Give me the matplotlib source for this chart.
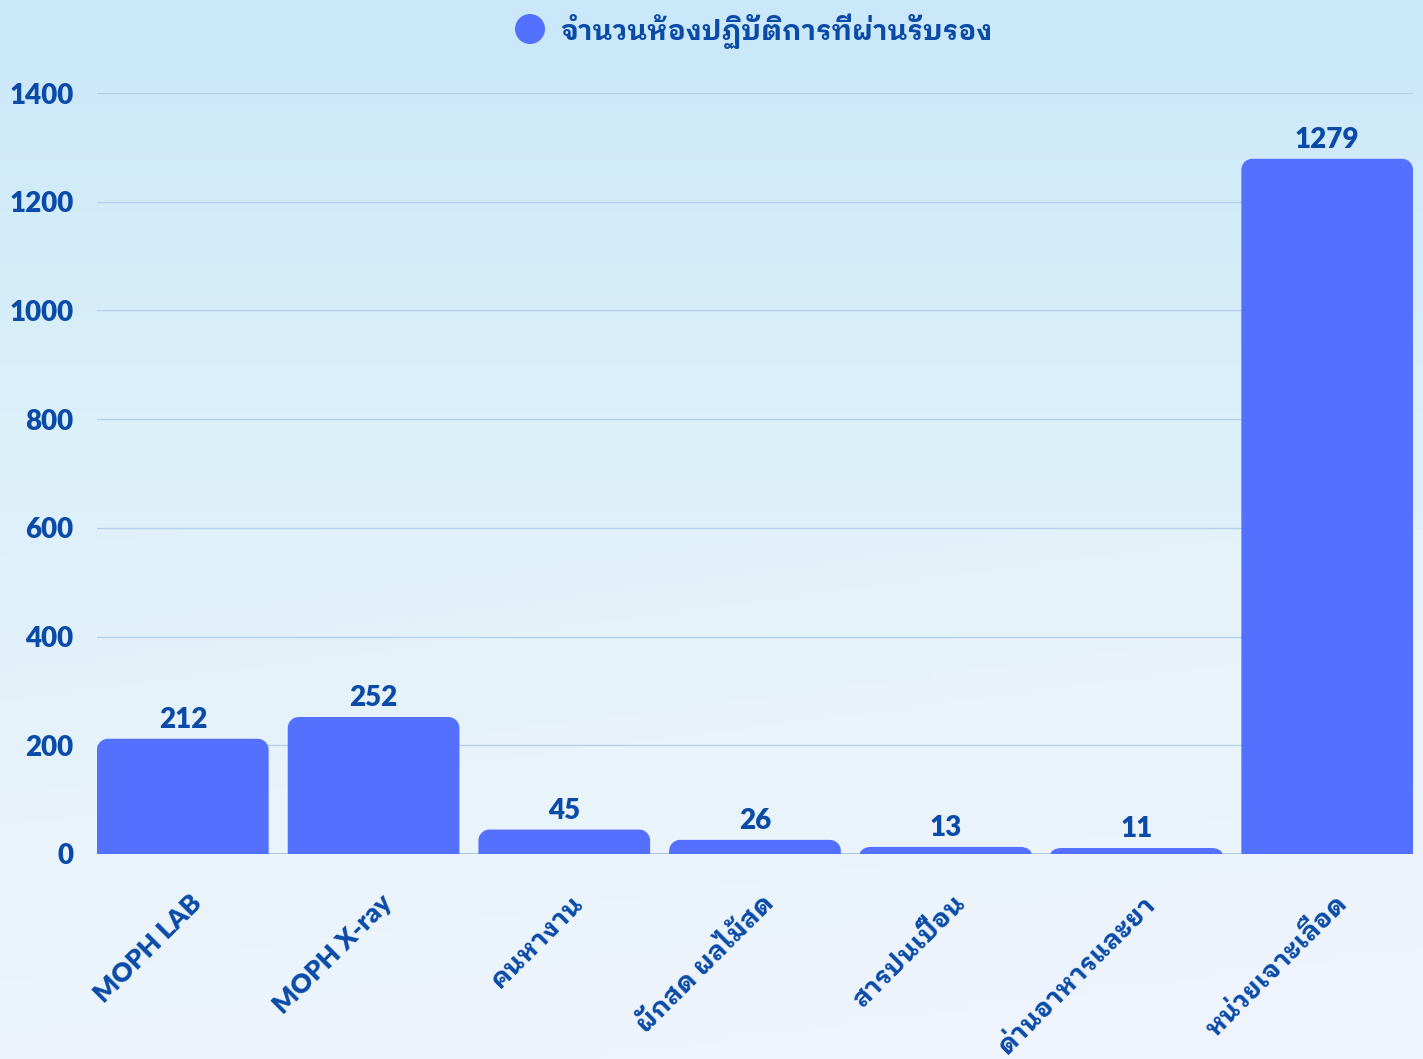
import numpy as np
import matplotlib
matplotlib.use("Agg")
import matplotlib.pyplot as plt
from matplotlib.path import Path
from matplotlib.patches import PathPatch, Circle
from matplotlib.colors import LinearSegmentedColormap
import matplotlib.transforms as mtransforms

categories = ["MOPH LAB", "MOPH X-ray", "คนหางาน", "ผักสด ผลไม้สด",
              "สารปนเปื้อน", "ด่านอาหารและยา", "หน่วยเจาะเลือด"]
counts = [212, 252, 45, 26, 13, 11, 1279]
series_name = "จำนวนห้องปฏิบัติการที่ผ่านรับรอง"
yticks = [0, 200, 400, 600, 800, 1000, 1200, 1400]

# latin glyphs from Lato, thai glyphs from the looped Plex face
plt.rcParams["font.family"] = ["Lato", "IBM Plex Sans Thai Looped", "DejaVu Sans"]

TXT = "#0a4ba8"
BAR = "#5470ff"
GRID = "#b4d0ee"
WEIGHT = 800

W, H = 1423, 1059
fig = plt.figure(figsize=(W / 100, H / 100), dpi=100)

# soft background gradient across the whole figure
bg = fig.add_axes([0, 0, 1, 1], zorder=-10)
cmap = LinearSegmentedColormap.from_list("bg", ["#cae8fa", "#dbf0f9", "#e8f3fa", "#f0f4fd"])
yy, xx = np.mgrid[0:1:200j, 0:1:200j]
bg.imshow(0.85 * yy + 0.15 * xx * (yy > 0.5), cmap=cmap, aspect="auto", extent=[0, 1, 1, 0])
bg.axis("off")

left, right, bottom, top = 97, 1413, 854, 93
ax = fig.add_axes([left / W, 1 - bottom / H, (right - left) / W, (bottom - top) / H])
ax.set_facecolor("none")
ax.set_xlim(-0.45, len(categories) - 0.55)
ax.set_ylim(0, 1400)
for s in ax.spines.values():
    s.set_visible(False)
ax.set_yticks(yticks)
ax.set_yticklabels([str(v) for v in yticks], fontsize=20, color=TXT, fontweight=WEIGHT)
ax.tick_params(axis="y", length=0, pad=17)
ax.set_xticks([])
for v in yticks[1:]:
    ax.axhline(v, color=GRID, lw=1, zorder=0)
ax.axhline(0, color="#a6bfd6", lw=1.2, zorder=0)

# bars with rounded top corners
bw = 0.9
px_x = (right - left) / (ax.get_xlim()[1] - ax.get_xlim()[0])
px_y = (bottom - top) / 1400
r = 11
for i, v in enumerate(counts):
    x0, x1 = i - bw / 2, i + bw / 2
    rx = r / px_x
    ry = min(r / px_y, v)
    k = 0.55
    verts = [(x0, 0), (x0, v - ry),
             (x0, v - ry + k * ry), (x0 + rx - k * rx, v), (x0 + rx, v),
             (x1 - rx, v),
             (x1 - rx + k * rx, v), (x1, v - ry + k * ry), (x1, v - ry),
             (x1, 0), (x0, 0)]
    codes = [Path.MOVETO, Path.LINETO,
             Path.CURVE4, Path.CURVE4, Path.CURVE4,
             Path.LINETO,
             Path.CURVE4, Path.CURVE4, Path.CURVE4,
             Path.LINETO, Path.CLOSEPOLY]
    ax.add_patch(PathPatch(Path(verts, codes), facecolor=BAR, edgecolor="none", zorder=2))
    ax.annotate(str(v), (i, v), xytext=(0, 4), textcoords="offset points",
                ha="center", va="bottom", fontsize=20, color=TXT, fontweight=WEIGHT)

# slanted category labels under the axis
tr = mtransforms.offset_copy(ax.get_xaxis_transform(), fig=fig, x=15, y=-45, units="dots")
for i, name in enumerate(categories):
    ax.text(i, 0, name, transform=tr, rotation=45, rotation_mode="anchor",
            ha="right", va="center", fontsize=19, color=TXT, fontweight=WEIGHT, clip_on=False)

# legend marker and series name
fig.patches.append(Circle((5.30, (H - 29) / 100), 0.15, transform=fig.dpi_scale_trans,
                          facecolor=BAR, edgecolor="none"))
fig.text(560 / W, 1 - 31 / H, series_name, ha="left", va="center",
         fontsize=20, color=TXT, fontweight=WEIGHT)

fig.savefig("out.png", dpi=100)
